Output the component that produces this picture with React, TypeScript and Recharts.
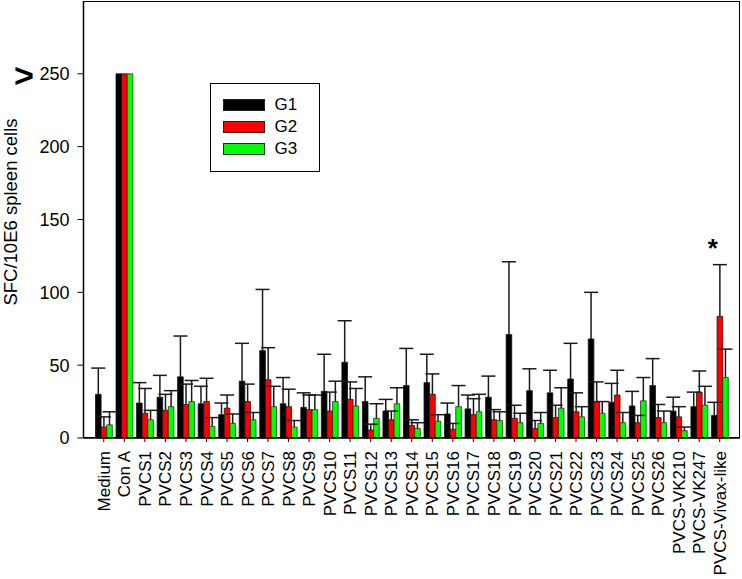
import { BarChart, Bar, XAxis, YAxis, Legend, LabelList, Label } from "recharts"

// categories on the x axis
const categories = [
  "Medium", "Con A",
  "PVCS1", "PVCS2", "PVCS3", "PVCS4", "PVCS5", "PVCS6", "PVCS7", "PVCS8", "PVCS9", "PVCS10",
  "PVCS11", "PVCS12", "PVCS13", "PVCS14", "PVCS15", "PVCS16", "PVCS17", "PVCS18", "PVCS19", "PVCS20",
  "PVCS21", "PVCS22", "PVCS23", "PVCS24", "PVCS25", "PVCS26",
  "PVCS-VK210", "PVCS-VK247", "PVCS-Vivax-like",
]

const seriesNames = ["G1", "G2", "G3"]

// mean SFC per group
const g1 = [30, 250, 24, 28, 42, 23.5, 16, 39, 60, 23.5, 21, 32, 52, 25, 18.5, 36, 38, 16.5, 20, 28, 71, 32.5, 31, 40.5, 68, 24.5, 22, 36, 18.5, 21.5, 15.5]
const g2 = [7.5, 250, 17, 19, 23, 25, 20.5, 25, 40, 21.5, 19.5, 18.5, 26.5, 5.5, 12.5, 8.5, 30, 6, 16, 12.5, 13.5, 6.5, 14, 18, 25, 29.5, 10.5, 14, 14.5, 31.5, 83.5]
const g3 = [9, 250, 12.5, 21.5, 25, 8, 10, 12.5, 21.5, 7.5, 19.5, 25, 22, 13.5, 23.5, 6.5, 11.5, 21.5, 18, 12, 10.5, 10, 20.5, 14.5, 17, 10.5, 25.5, 10.5, 5, 22.5, 41.5]

// upper error (SD) per group
const g1Err = [18, 0, 14, 15, 28, 12, 8, 26, 42, 18, 10, 25.5, 28.5, 17, 8, 25.5, 19.5, 7.5, 9.5, 14.5, 50, 15, 15.5, 24.5, 32, 13, 10, 18.5, 9.5, 10, 9]
const g2Err = [7, 0, 17, 11, 14, 16, 9, 12, 22, 12, 10, 13, 12, 4, 6, 4, 14, 4, 11, 7, 9, 5.5, 8.5, 13, 13.5, 17, 5, 9, 7, 14.5, 35.5]
const g3Err = [9, 0, 6.5, 11, 14.5, 6, 6.5, 5, 14, 4.5, 10, 14, 12, 10, 11, 4, 4.5, 14.5, 12, 6, 6.5, 7.5, 14, 7, 8, 7, 16, 8, 2.5, 13, 19.5]

const significance = categories.map((c) => (c === "PVCS-Vivax-like" ? "*" : ""))

const yTicks = [0, 50, 100, 150, 200, 250]
const clippedAt = 250

const rows = categories.map((name, i) => ({
  name,
  g1: g1[i],
  g2: g2[i],
  g3: g3[i],
  g1Err: g1Err[i],
  g2Err: g2Err[i],
  g3Err: g3Err[i],
  sig: significance[i],
}))

const FONT = "'Liberation Sans', Arial, sans-serif"

function ErrorSegment(props: any) {
  const { x, y, width, height } = props
  if (!height || height <= 0) return <g />
  const cx = x + width / 2
  return (
    <g stroke="#1a1a1a" strokeWidth={1.5}>
      <line x1={cx} y1={y} x2={cx} y2={y + height} />
      <line x1={cx - 7} y1={y} x2={cx + 7} y2={y} />
    </g>
  )
}

function XTick({ x, y, payload }: any) {
  const y0 = y + 7
  return (
    <text
      x={x}
      y={y0}
      dy="0.36em"
      transform={`rotate(-90, ${x}, ${y0})`}
      textAnchor="end"
      fontSize={17}
      fontFamily={FONT}
      fill="#000"
    >
      {payload.value}
    </text>
  )
}

function YTick({ x, y, payload }: any) {
  return (
    <g>
      <text x={x} y={y} dy="0.36em" textAnchor="end" fontSize={18} fontFamily={FONT} fill="#000">
        {payload.value}
      </text>
      {payload.value === clippedAt && (
        <text x={24} y={y + 13} textAnchor="middle" fontSize={34} fontWeight="bold" fontFamily={FONT} fill="#000">
          {">"}
        </text>
      )}
    </g>
  )
}

function LegendBox({ payload }: any) {
  const items = (payload || []).filter((p: any) => seriesNames.includes(p.value))
  return (
    <div
      style={{
        width: 110,
        height: 89,
        boxSizing: "border-box",
        border: "1.5px solid #000",
        background: "#fff",
        paddingTop: 9.5,
        paddingLeft: 11.5,
        fontFamily: FONT,
      }}
    >
      {items.map((p: any) => (
        <div key={p.value} style={{ display: "flex", alignItems: "center", height: 22 }}>
          <span
            style={{
              display: "inline-block",
              width: 42,
              height: 12,
              background: p.color,
              border: "1px solid #222",
              boxSizing: "border-box",
            }}
          />
          <span style={{ marginLeft: 10, fontSize: 17, color: "#000" }}>{p.value}</span>
        </div>
      ))}
    </div>
  )
}

function Star(props: any) {
  const { x, y, width, value } = props
  if (!value) return null
  return (
    <text x={x + width / 2 - 7} y={y - 8} textAnchor="middle" fontSize={26} fontWeight="bold" fontFamily={FONT} fill="#000">
      {value}
    </text>
  )
}

export default function App() {
  return (
    <div style={{ position: "absolute", left: 0, top: 0, width: 742, height: 579, background: "#fff" }}>
      <BarChart
        width={742}
        height={579}
        data={rows}
        margin={{ top: 1, right: 2, left: 0, bottom: 0 }}
        barSize={5.6}
        barGap={0}
      >
        <XAxis
          dataKey="name"
          interval={0}
          height={141}
          padding={{ left: 10, right: 10 }}
          tick={<XTick />}
          tickSize={4}
          tickMargin={2}
          axisLine={{ stroke: "#000", strokeWidth: 1.5 }}
          tickLine={{ stroke: "#000" }}
        />
        <YAxis
          type="number"
          domain={[0, 300]}
          ticks={yTicks}
          width={83.5}
          tick={<YTick />}
          tickSize={6}
          tickMargin={8}
          axisLine={{ stroke: "#000", strokeWidth: 1.5 }}
          tickLine={{ stroke: "#000" }}
        >
          <Label
            content={() => (
              <text
                x={17}
                y={212}
                transform="rotate(-90, 17, 212)"
                textAnchor="middle"
                fontSize={18.5}
                fontFamily={FONT}
                fill="#000"
              >
                SFC/10E6 spleen cells
              </text>
            )}
          />
        </YAxis>
        <Legend
          layout="vertical"
          verticalAlign="middle"
          align="center"
          content={<LegendBox />}
          wrapperStyle={{ left: 210, top: 83, width: 110, height: 89 }}
        />
        <Bar dataKey="g1" name="G1" stackId="a" fill="#000000" stroke="#111" strokeWidth={0.8} isAnimationActive={false} />
        <Bar dataKey="g2" name="G2" stackId="b" fill="#ff0000" stroke="#3a0000" strokeWidth={0.8} isAnimationActive={false} />
        <Bar dataKey="g3" name="G3" stackId="c" fill="#00ff00" stroke="#1a3a1a" strokeWidth={0.8} isAnimationActive={false} />
        <Bar dataKey="g1Err" stackId="a" legendType="none" shape={<ErrorSegment />} isAnimationActive={false} />
        <Bar dataKey="g2Err" stackId="b" legendType="none" shape={<ErrorSegment />} isAnimationActive={false}>
          <LabelList dataKey="sig" content={<Star />} />
        </Bar>
        <Bar dataKey="g3Err" stackId="c" legendType="none" shape={<ErrorSegment />} isAnimationActive={false} />
      </BarChart>
      {/* plot frame (top and right edges) */}
      <div
        style={{
          position: "absolute",
          left: 83,
          top: 0.5,
          width: 657,
          height: 437.5,
          boxSizing: "border-box",
          border: "1.5px solid #000",
          pointerEvents: "none",
        }}
      />
    </div>
  )
}
